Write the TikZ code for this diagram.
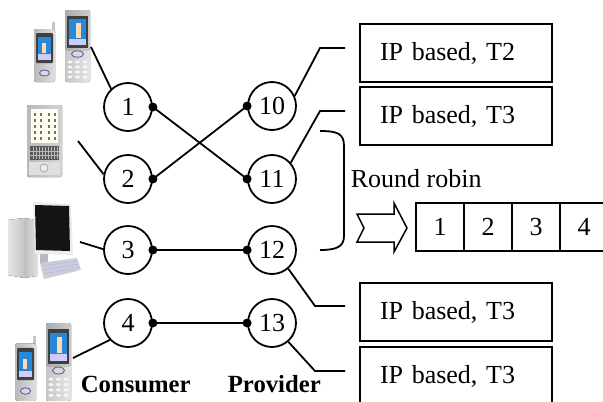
\documentclass[tikz,border=0pt]{standalone}
\usepackage{fontspec}
\setmainfont{Liberation Serif}
\usetikzlibrary{shapes.geometric}

% a slider phone and a candy-bar phone, drawn side by side
\newcommand{\devphones}{%
  % small phone
  \fill[gray!45] (19,12) rectangle (22,21);
  \fill[rounded corners=2pt,left color=gray!55,right color=gray!25] (1,19) rectangle (22,72);
  \fill[rounded corners=1pt,black!75] (3,23) rectangle (20,53);
  \fill[blue!45!cyan!70!gray] (5,27) rectangle (18,50);
  \fill[white!80!blue] (5,44) rectangle (18,50);
  \fill[orange!30!white] (9,33) rectangle (13,43);
  \fill[gray!30,draw=blue!35!gray,line width=0.8pt] (11.5,63) ellipse (5 and 3);
  % slider phone
  \fill[rounded corners=2pt,left color=gray!45,right color=gray!20] (32,36) rectangle (57,72);
  \foreach \r in {52,57,62,67}{\foreach \c in {37,44.5,52}{\fill[gray!8] (\c,\r) ellipse (2.6 and 1.4);}}
  \fill[rounded corners=2pt,left color=gray!65,right color=gray!40] (32,0) rectangle (57,40);
  \fill[black!75] (34,6) rectangle (55,38);
  \fill[blue!45!cyan!70!gray] (36,9) rectangle (53,35);
  \fill[white!80!blue] (36,29) rectangle (53,35);
  \fill[orange!30!white] (43,13) rectangle (48,28);
  \fill[gray!30,draw=blue!35!gray,line width=0.8pt] (44.5,44) ellipse (6 and 3.2);
}

\begin{document}
\begin{tikzpicture}[x=1pt,y=-1pt,line width=1.8pt,
  every node/.style={font=\fontsize{26}{30}\selectfont},
  hub/.style={circle,draw,minimum size=48pt,inner sep=0pt},
  ipbox/.style={draw,rectangle,minimum height=58pt,text width=152pt,inner xsep=20pt,align=left},
  qcell/.style={draw,rectangle,minimum width=48pt,minimum height=48pt,inner sep=0pt},
  role/.style={font=\fontsize{24.7}{28}\selectfont\bfseries,anchor=base west},
  dot/.style={fill=black}]
\useasboundingbox (0,0) rectangle (603,402);
\clip (0,0) rectangle (603,402);

% ---------- devices ----------
\begin{scope}[shift={(33,10)},line width=0.6pt]
  \devphones
\end{scope}
\begin{scope}[shift={(14,323)},yscale=1.08,line width=0.6pt]
  \devphones
\end{scope}

% handheld organiser
\begin{scope}[line width=0.6pt]
  \fill[rounded corners=2pt,left color=gray!55,right color=gray!35] (27,105) rectangle (62,177);
  \fill[yellow!6] (31,109) rectangle (58,143);
  \foreach \c in {35,41,49,55}{
    \foreach \r in {113,119,125,131,137}{\draw[black!55,line width=1.2pt] (\c,\r) -- (\c,\r+3);}}
  \fill[black!65] (30,146) rectangle (59,160);
  \foreach \c in {33,36,...,57}{\draw[gray!55,line width=0.5pt] (\c,147) -- (\c,159);}
  \draw[gray!55,line width=0.5pt] (30,151) -- (59,151) (30,155.5) -- (59,155.5);
  \fill[gray!25] (29,162) rectangle (60,175);
  \draw[gray!70,fill=gray!15,line width=0.8pt] (44,168) circle (4);
\end{scope}

% desktop computer
\begin{scope}[line width=0.6pt]
  \fill[left color=gray!20,right color=gray!45] (8,220) -- (24,218) -- (24,278) -- (8,275) -- cycle;
  \fill[left color=gray!50,right color=gray!25] (24,218) -- (37,220) -- (37,276) -- (24,278) -- cycle;
  \fill[gray!15] (33,202) -- (71,204) -- (73,255) -- (35,254) -- cycle;
  \fill[black!92] (35,205) -- (69,206) -- (70,251) -- (36,250) -- cycle;
  \fill[gray!55] (40,254) rectangle (48,263);
  \fill[blue!15!gray!35] (40,263) -- (77,258) -- (81,270) -- (44,279) -- cycle;
  \foreach \i in {0,1,2}{\draw[white!70!blue,line width=0.5pt] (42+\i,266+4*\i) -- (78+\i,261+3*\i);}
\end{scope}

% ---------- hubs ----------
\node[hub] (c1)  at (128,107) {1};
\node[hub] (c2)  at (128,179) {2};
\node[hub] (c3)  at (128,250) {3};
\node[hub] (c4)  at (128,323) {4};
\node[hub] (c10) at (272,106) {10};
\node[hub] (c11) at (272,179) {11};
\node[hub] (c12) at (272,250) {12};
\node[hub] (c13) at (272,323) {13};

% device links
\coordinate (d1) at (91,47);
\coordinate (d2) at (78,141);
\coordinate (d3) at (80,242);
\coordinate (d4) at (73,358);
\draw (d1) -- (c1.133);
\draw (d2) -- (c2.169);
\draw (d3) -- (c3.178);
\draw (d4) -- (c4.223);

% consumer-provider links
\draw (c1.east) -- (c11.west);
\draw (c2.east) -- (c10.west);
\draw (c3.east) -- (c12.west);
\draw (c4.east) -- (c13.west);
\foreach \n/\a in {c1/east,c2/east,c3/east,c4/east,c10/west,c11/west,c12/west,c13/west}
  \fill (\n.\a) circle (4.5);

% ---------- servers ----------
\node[ipbox] (b1) at (456,53)  {IP based, T2};
\node[ipbox] (b2) at (456,116) {IP based, T3};
\node[ipbox] (b3) at (456,312) {IP based, T3};
\node[ipbox] (b4) at (456,376) {IP based, T3};

\coordinate (k10) at (320,48);  \coordinate (e10) at (345,48);
\coordinate (k11) at (320,111); \coordinate (e11) at (345,111);
\coordinate (k12) at (315,306); \coordinate (e12) at (345,306);
\coordinate (k13) at (315,371); \coordinate (e13) at (345,371);
\draw (c10.24)  -- (k10) -- (e10);
\draw (c11.41)  -- (k11) -- (e11);
\draw (c12.-49) -- (k12) -- (e12);
\draw (c13.-49) -- (k13) -- (e13);

% ---------- round robin scheduler ----------
\draw (320,131) .. controls (338,131) and (344,134) .. (344,146) -- (344,236)
      .. controls (344,247) and (336,250) .. (320,250);
\node[anchor=base west,inner sep=0pt] (rr) at (350,187) {Round robin};

\draw[line width=1.5pt,line join=miter]
  (357,214) -- (394,214) -- (394,203) -- (407,228) -- (394,252) -- (394,242)
  -- (357,242) -- (364,228) -- cycle;

\node[qcell] (q1) at (440,227) {1};
\node[qcell] (q2) at (488,227) {2};
\node[qcell] (q3) at (536,227) {3};
\node[qcell] (q4) at (584,227) {4};

% ---------- roles ----------
\node[role,inner sep=0pt] (cons) at (80,392) {Consumer};
\node[role,inner sep=0pt] (prov) at (227,392) {Provider};
\end{tikzpicture}
\end{document}
